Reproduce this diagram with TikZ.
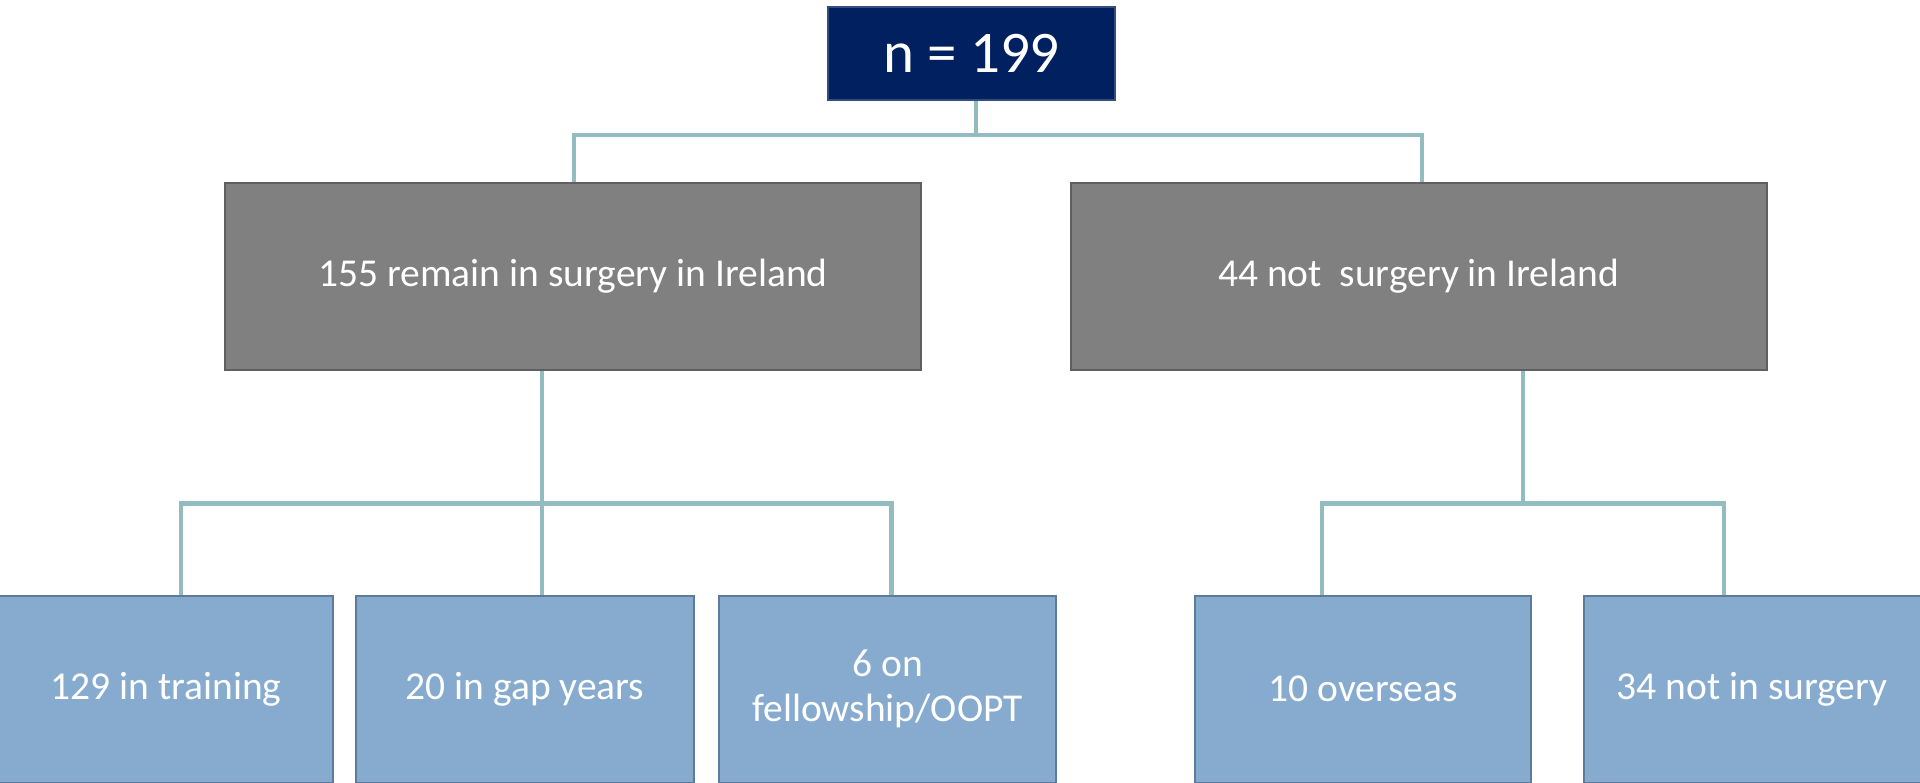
\documentclass[tikz,border=0pt]{standalone}
\usepackage{fontspec}
\setmainfont{Carlito}
\definecolor{navy}{RGB}{0,32,96}
\definecolor{graybox}{RGB}{128,128,128}
\definecolor{grayedge}{RGB}{95,95,95}
\definecolor{bluebox}{RGB}{135,171,207}
\definecolor{blueedge}{RGB}{93,124,156}
\definecolor{conncol}{RGB}{147,188,193}
\begin{document}
\begin{tikzpicture}[x=1pt,y=-1pt,
  box/.style={rectangle, inner sep=0pt, line width=2pt, text=white, align=center},
  topbox/.style={box, fill=navy, draw=navy!80!white, minimum width=287pt, minimum height=93pt, font=\fontsize{59}{66}\selectfont},
  midbox/.style={box, fill=graybox, draw=grayedge, minimum width=696pt, minimum height=187pt, font=\fontsize{39.5}{45}\selectfont},
  leafbox/.style={box, fill=bluebox, draw=blueedge, minimum width=336pt, minimum height=187pt, font=\fontsize{39.5}{45}\selectfont},
  conn/.style={draw=conncol, line width=4.5pt}]
\useasboundingbox (0,0) rectangle (1920,782);
\node[topbox] (top) at (971.5,53.5) {n = 199};
\node[midbox] (g1) at (573,276) {155 remain in surgery in Ireland};
\node[midbox] (g2) at (1418.5,276) {44 not\ \ surgery in Ireland};
\node[leafbox, minimum width=334pt] (l1) at (166,689) {129 in training};
\node[leafbox, minimum width=338pt] (l2) at (525,689) {20 in gap years};
\node[leafbox, minimum width=337pt] (l3) at (887.5,689) {6 on\\fellowship/OOPT};
\node[leafbox, minimum width=336pt] (l4) at (1363,689) {10 overseas};
\node[leafbox, minimum width=337pt] (l5) at (1752,689) {34 not in surgery};
% top level
\coordinate (t0) at ([xshift=4.5pt]top.south);
\coordinate (tb) at ([xshift=4.5pt,yshift=-34pt]top.south);
\draw[conn] (t0) -- (tb);
\draw[conn] ([xshift=1pt]g1.north) |- (tb) -| ([xshift=3.5pt]g2.north);
% left branch
\coordinate (s1) at ([xshift=-31pt]g1.south);
\coordinate (s1b) at ([xshift=-31pt,yshift=-133pt]g1.south);
\draw[conn] (s1) -- (s1b);
\draw[conn] ([xshift=15pt]l1.north) |- (s1b) -| ([xshift=4pt]l3.north);
\draw[conn] (s1b) -- ([xshift=17pt]l2.north);
% right branch
\coordinate (s2) at ([xshift=104.5pt]g2.south);
\coordinate (s2b) at ([xshift=104.5pt,yshift=-133pt]g2.south);
\draw[conn] (s2) -- (s2b);
\draw[conn] ([xshift=-41pt]l4.north) |- (s2b) -| ([xshift=-28pt]l5.north);
\end{tikzpicture}
\end{document}
